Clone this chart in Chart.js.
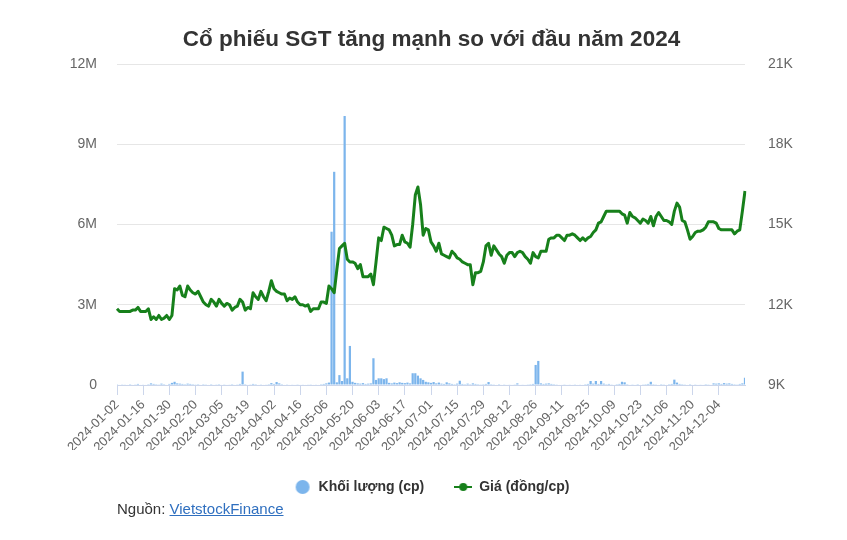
<!DOCTYPE html>
<html lang="vi">
<head>
<meta charset="utf-8">
<title>Cổ phiếu SGT</title>
<script src="https://cdn.jsdelivr.net/npm/chart.js@4.4.1/dist/chart.umd.min.js"></script>
<style>
  html, body { margin: 0; padding: 0; background: #fff; }
  #wrap { position: relative; width: 847px; height: 540px; }
  #source {
    position: absolute; left: 117px; top: 500px;
    font: 15px "Liberation Sans", Arial, sans-serif; color: #333;
  }
  #source a { color: #2f6fbf; text-decoration: underline; }
</style>
</head>
<body>
<div id="wrap">
  <canvas id="chart" width="847" height="540"></canvas>
  <div id="source">Nguồn: <a href="#">VietstockFinance</a></div>
</div>
<script>
// --- Data ---
const firstDay = '2024-01-02';

// HOSE closed days (Tết, Giỗ Tổ, 30/4-1/5, Quốc khánh)
const holidays = [
    '2024-02-08', '2024-02-09', '2024-02-12', '2024-02-13', '2024-02-14',
    '2024-04-18', '2024-04-29', '2024-04-30', '2024-05-01',
    '2024-09-02', '2024-09-03'
];

const tickLabels = [
    '2024-01-02', '2024-01-16', '2024-01-30', '2024-02-20', '2024-03-05', '2024-03-19',
    '2024-04-02', '2024-04-16', '2024-05-06', '2024-05-20', '2024-06-03', '2024-06-17',
    '2024-07-01', '2024-07-15', '2024-07-29', '2024-08-12', '2024-08-26', '2024-09-11',
    '2024-09-25', '2024-10-09', '2024-10-23', '2024-11-06', '2024-11-20', '2024-12-04'
];

// Khối lượng (cp), one row per 10 sessions
const volume = [
    30000, 20000, 25000, 15000, 20000, 30000, 20000, 25000, 40000, 20000,
    15000, 20000, 30000, 60000, 40000, 30000, 25000, 50000, 30000, 20000,
    40000, 80000, 120000, 60000, 50000, 40000, 30000, 50000, 40000, 30000,
    25000, 30000, 20000, 30000, 25000, 20000, 30000, 20000, 25000, 30000,
    20000, 25000, 20000, 15000, 30000, 20000, 25000, 40000, 500000, 30000,
    20000, 25000, 40000, 30000, 20000, 25000, 20000, 15000, 30000, 70000,
    40000, 110000, 60000, 30000, 20000, 25000, 20000, 15000, 20000, 25000,
    20000, 15000, 20000, 15000, 25000, 20000, 15000, 20000, 30000, 40000,
    60000, 90000, 5730000, 7970000, 100000, 370000, 150000, 10060000, 250000, 1460000,
    120000, 80000, 60000, 50000, 70000, 40000, 50000, 60000, 1000000, 190000,
    250000, 250000, 220000, 250000, 80000, 60000, 90000, 70000, 100000, 80000,
    70000, 90000, 60000, 440000, 440000, 350000, 250000, 190000, 120000, 100000,
    80000, 110000, 60000, 90000, 50000, 40000, 100000, 60000, 40000, 30000,
    50000, 160000, 40000, 30000, 50000, 30000, 60000, 40000, 30000, 25000,
    30000, 40000, 110000, 30000, 25000, 20000, 30000, 20000, 25000, 20000,
    15000, 20000, 25000, 60000, 20000, 15000, 20000, 25000, 30000, 40000,
    750000, 900000, 60000, 40000, 50000, 60000, 40000, 30000, 25000, 20000,
    20000, 25000, 20000, 15000, 20000, 25000, 20000, 15000, 20000, 30000,
    40000, 150000, 50000, 150000, 40000, 150000, 50000, 30000, 40000, 25000,
    20000, 30000, 40000, 120000, 100000, 30000, 20000, 25000, 20000, 30000,
    20000, 25000, 30000, 40000, 120000, 30000, 25000, 20000, 30000, 25000,
    20000, 30000, 40000, 200000, 90000, 40000, 30000, 25000, 20000, 30000,
    20000, 25000, 20000, 15000, 20000, 30000, 25000, 20000, 60000, 50000,
    60000, 40000, 70000, 50000, 60000, 40000, 30000, 25000, 40000, 60000, 270000
];

// Giá (đồng/cp)
const price = [
    11850, 11750, 11750, 11750, 11750, 11750, 11800, 11800, 11900, 11750,
    11750, 11750, 11850, 11450, 11550, 11450, 11600, 11450, 11500, 11600,
    11450, 11600, 12600, 12550, 12700, 12350, 12300, 12700, 12550, 12450,
    12400, 12500, 12300, 12100, 12000, 11950, 12200, 12100, 11950, 12200,
    12050, 11950, 12050, 12000, 11800, 11900, 11950, 12200, 12100, 11800,
    11900, 11850, 12450, 12300, 12200, 12500, 12300, 12150, 12500, 12900,
    12600, 12500, 12450, 12400, 12400, 12150, 12250, 12200, 12300, 12100,
    12000, 12000, 11950, 12000, 11750, 11850, 11850, 11850, 12100, 12100,
    12050, 12700, 12600, 12450, 13300, 14100, 14200, 14300, 13700, 13600,
    13600, 13550, 13350, 13500, 13050, 13050, 13050, 13150, 12750, 13600,
    14500, 14400, 14900, 14850, 14800, 14600, 14200, 14250, 14250, 14600,
    14350, 14300, 14150, 15000, 16100, 16400, 15750, 14600, 14850, 14800,
    14350, 14200, 14000, 14300, 13900, 13850, 13800, 13750, 14000, 13900,
    13750, 13700, 13600, 13550, 13500, 13500, 12750, 13200, 13200, 13250,
    13600, 14200, 14300, 13850, 14200, 14050, 13900, 13800, 13550, 13850,
    13950, 13950, 13800, 13950, 14000, 13950, 13800, 13700, 13550, 13950,
    13800, 13750, 14000, 14000, 14000, 14450, 14500, 14500, 14600, 14600,
    14500, 14400, 14600, 14600, 14650, 14600, 14500, 14400, 14500, 14400,
    14500, 14550, 14700, 14800, 15050, 15100, 15300, 15500, 15500, 15500,
    15500, 15500, 15500, 15400, 15350, 15050, 15450, 15300, 15250, 15150,
    15050, 15200, 15150, 15050, 15300, 14950, 15300, 15450, 15300, 15150,
    15150, 15100, 15000, 15500, 15800, 15650, 15150, 15100, 14800, 14450,
    14550, 14700, 14750, 14750, 14800, 14900, 15100, 15100, 15100, 15050,
    14850, 14800, 14800, 14800, 14800, 14800, 14650, 14750, 14800, 15500, 16250
];

// --- Styles ---
const FONT = '"Liberation Sans", Arial, Helvetica, sans-serif';
const VOL_COLOR = '#7cb5ec';
const PRICE_COLOR = '#17801b';
const GRID_COLOR = '#e6e6e6';
const AXIS_COLOR = '#ccd6eb';

Chart.defaults.font.family = FONT;

// --- Helpers ---
function buildTradingDays(count) {
    const days = [];
    const d = new Date(firstDay + 'T00:00:00Z');
    while (days.length < count) {
        const iso = d.toISOString().slice(0, 10);
        const wd = d.getUTCDay();
        if (wd !== 0 && wd !== 6 && !holidays.includes(iso)) days.push(iso);
        d.setUTCDate(d.getUTCDate() + 1);
    }
    return days;
}

function makeSymbol(draw) {
    const c = document.createElement('canvas');
    c.width = 18;
    c.height = 14;
    draw(c.getContext('2d'));
    return c;
}

const dates = buildTradingDays(price.length);

const volumeSymbol = makeSymbol(ctx => {
    ctx.fillStyle = VOL_COLOR;
    ctx.beginPath();
    ctx.arc(9, 7, 7, 0, Math.PI * 2);
    ctx.fill();
});

const priceSymbol = makeSymbol(ctx => {
    ctx.strokeStyle = PRICE_COLOR;
    ctx.lineWidth = 2;
    ctx.beginPath();
    ctx.moveTo(0, 7);
    ctx.lineTo(18, 7);
    ctx.stroke();
    ctx.fillStyle = PRICE_COLOR;
    ctx.beginPath();
    ctx.arc(9, 7, 4, 0, Math.PI * 2);
    ctx.fill();
});

// --- Chart ---
new Chart(document.getElementById('chart'), {
    data: {
        labels: dates,
        datasets: [
            {
                type: 'bar',
                label: 'Khối lượng (cp)',
                data: volume,
                yAxisID: 'yVol',
                backgroundColor: VOL_COLOR,
                barPercentage: 0.85,
                categoryPercentage: 1,
                order: 1
            },
            {
                type: 'line',
                label: 'Giá (đồng/cp)',
                data: price,
                yAxisID: 'yPrice',
                borderColor: PRICE_COLOR,
                backgroundColor: PRICE_COLOR,
                borderWidth: 3,
                pointRadius: 0,
                tension: 0,
                borderJoinStyle: 'round',
                order: 0
            }
        ]
    },
    options: {
        responsive: false,
        animation: false,
        layout: { padding: { left: 16, bottom: 36 } },
        plugins: {
            title: {
                display: true,
                text: 'Cổ phiếu SGT tăng mạnh so với đầu năm 2024',
                color: '#333333',
                font: { size: 22.5, weight: 'bold' },
                padding: { top: 26.5, bottom: 10.5 }
            },
            legend: {
                position: 'bottom',
                labels: {
                    usePointStyle: true,
                    pointStyleWidth: 18,
                    padding: 30,
                    color: '#333333',
                    font: { size: 14, weight: 'bold' },
                    generateLabels: chart => chart.data.datasets.map((ds, i) => ({
                        text: ds.label,
                        pointStyle: i === 0 ? volumeSymbol : priceSymbol,
                        fillStyle: 'rgba(0,0,0,0)',
                        strokeStyle: 'rgba(0,0,0,0)',
                        lineWidth: 0,
                        hidden: false,
                        datasetIndex: i,
                        fontColor: '#333333'
                    }))
                }
            },
            tooltip: { enabled: false }
        },
        scales: {
            x: {
                offset: false,
                grid: {
                    offset: false,
                    drawOnChartArea: false,
                    drawTicks: true,
                    tickLength: 10,
                    color: ctx => tickLabels.includes(dates[ctx.index]) ? AXIS_COLOR : 'rgba(0,0,0,0)'
                },
                border: { color: AXIS_COLOR },
                ticks: {
                    autoSkip: false,
                    minRotation: 45,
                    maxRotation: 45,
                    padding: 2,
                    color: '#666666',
                    font: { size: 13 },
                    callback: (v, i) => tickLabels.includes(dates[i]) ? dates[i] : ''
                },
                afterFit: scale => { scale.height = 65; }
            },
            yVol: {
                position: 'left',
                min: 0,
                max: 12000000,
                ticks: {
                    stepSize: 3000000,
                    padding: 20,
                    color: '#666666',
                    font: { size: 14 },
                    callback: v => v === 0 ? '0' : (v / 1000000) + 'M'
                },
                grid: { color: GRID_COLOR, drawTicks: false },
                border: { display: false },
                afterFit: scale => { scale.width = 101; }
            },
            yPrice: {
                position: 'right',
                min: 9000,
                max: 21000,
                ticks: {
                    stepSize: 3000,
                    padding: 15,
                    color: '#666666',
                    font: { size: 14 },
                    callback: v => (v / 1000) + 'K'
                },
                grid: { display: false },
                border: { display: false },
                afterFit: scale => { scale.width = 102; }
            }
        }
    }
});
</script>
</body>
</html>
